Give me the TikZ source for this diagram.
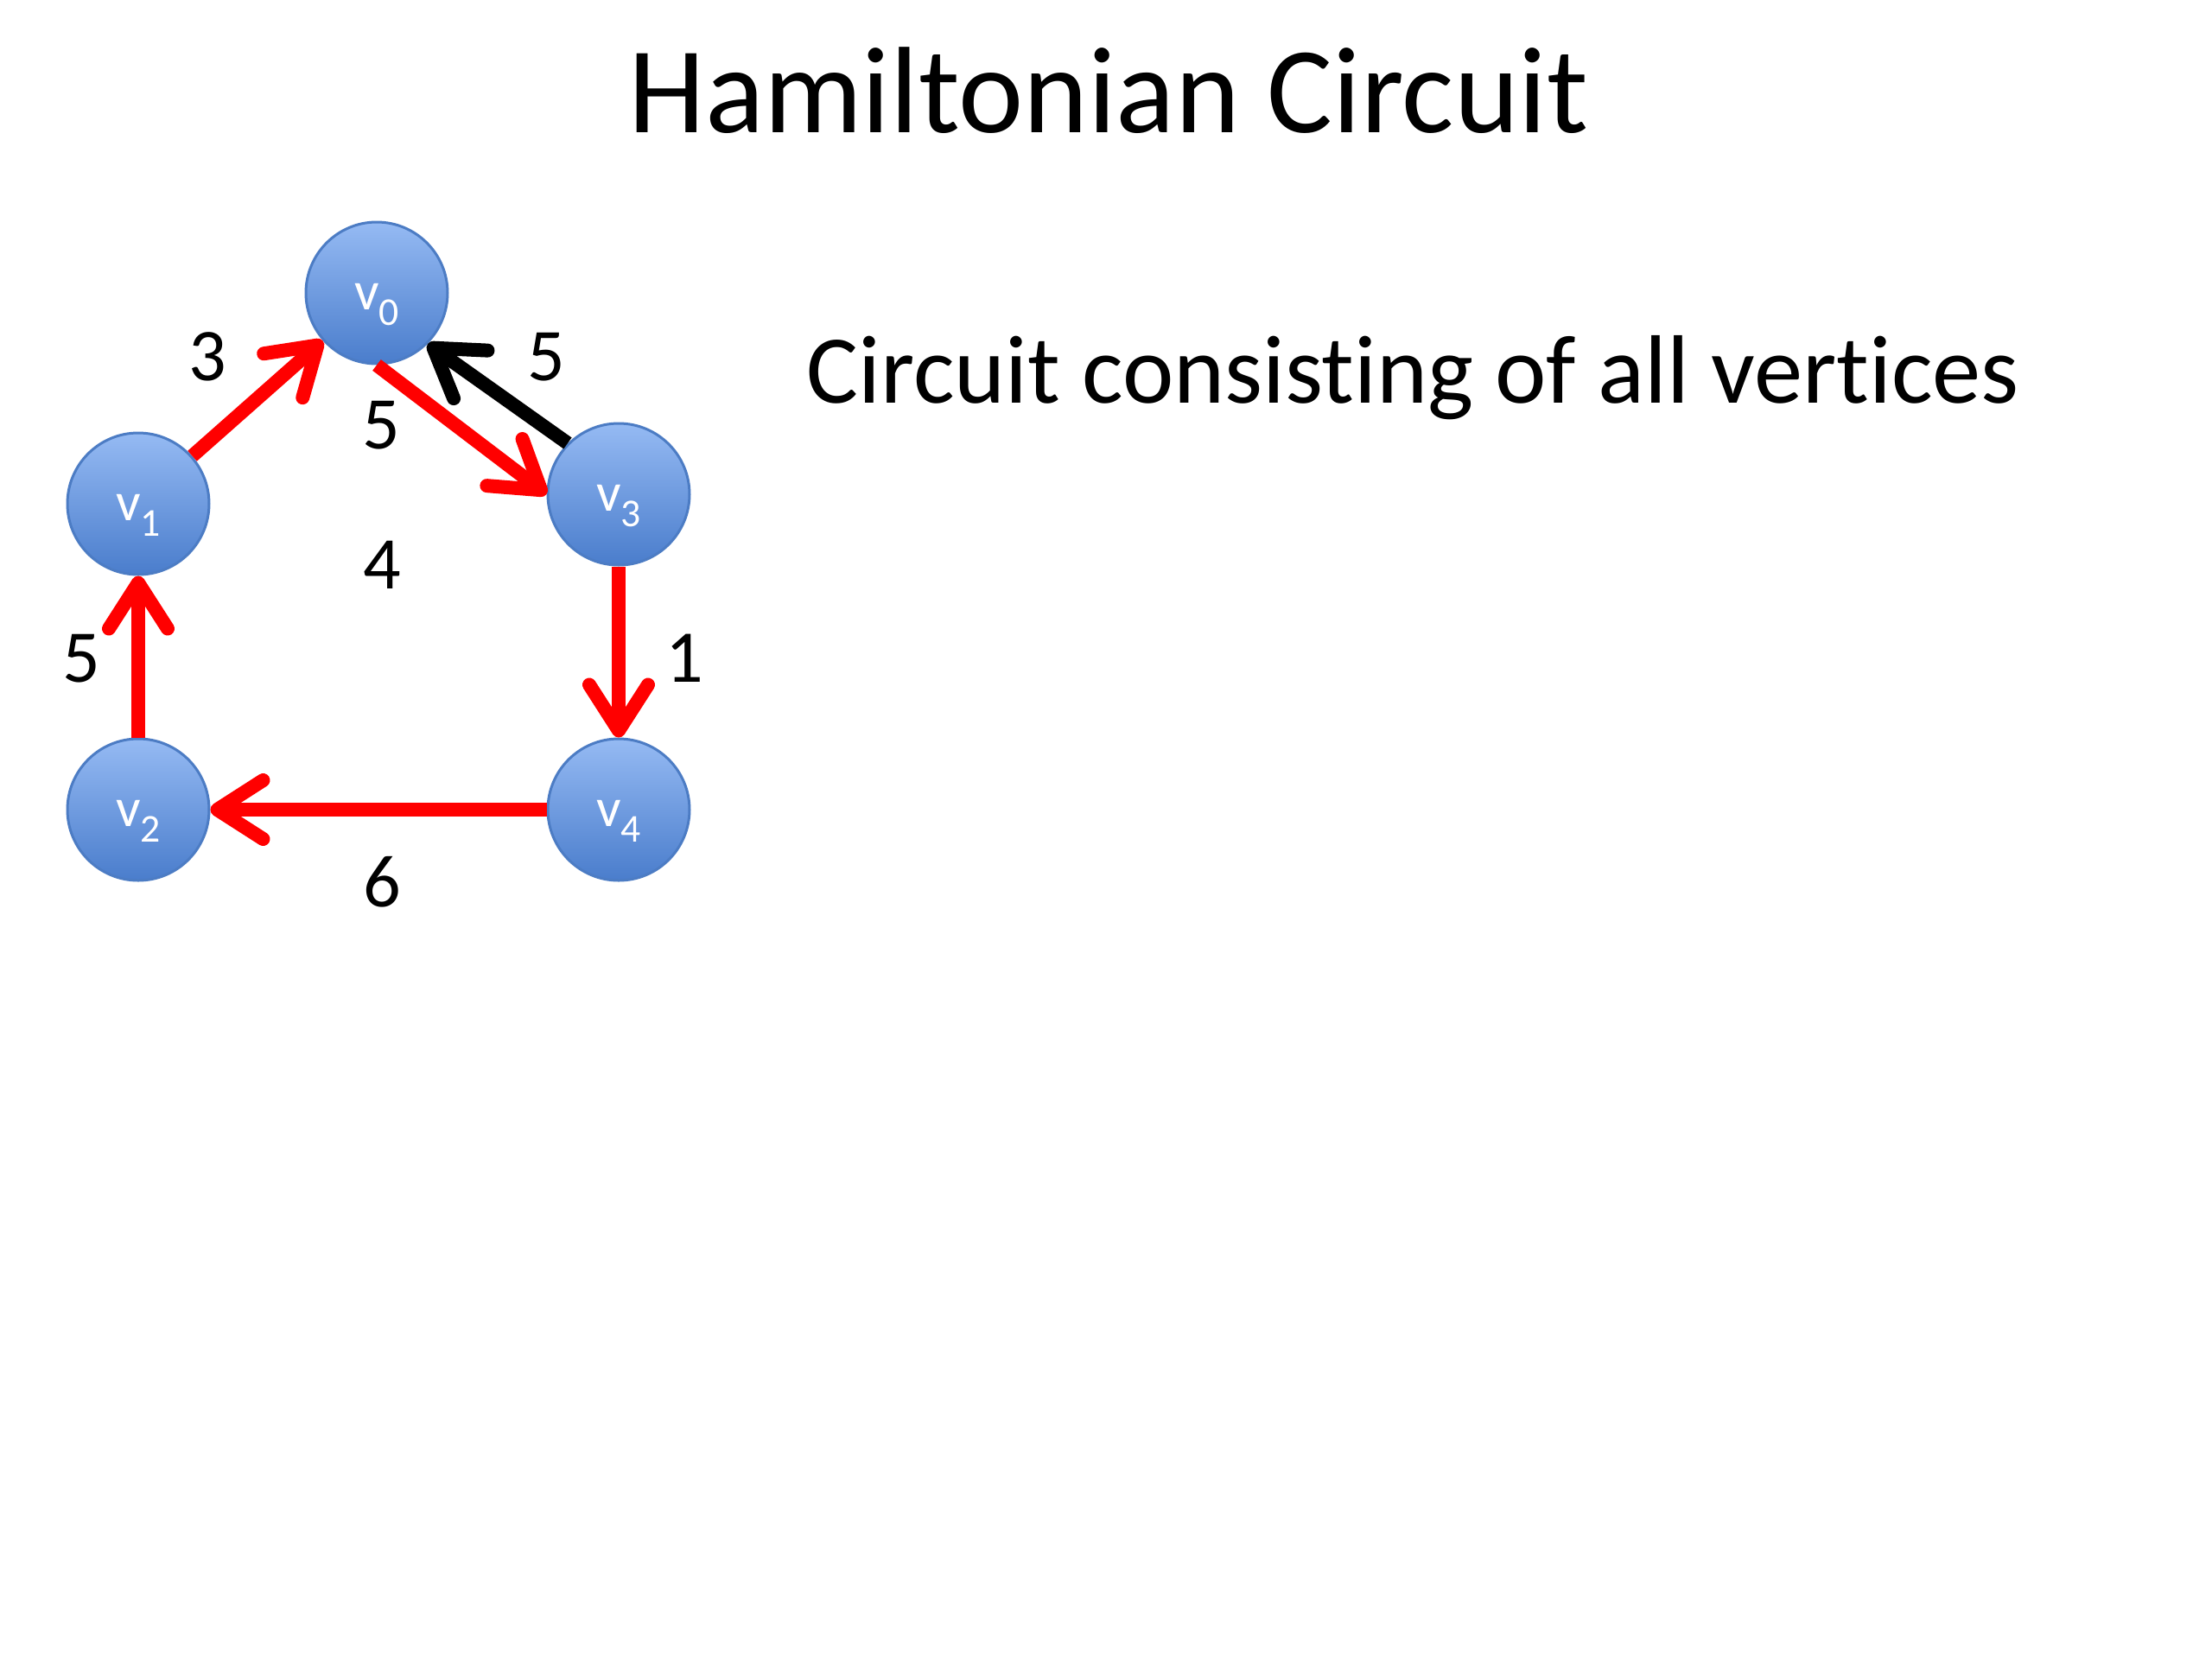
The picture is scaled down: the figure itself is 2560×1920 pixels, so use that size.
\documentclass[tikz,border=0pt]{standalone}
\usepackage{fontspec}
\setmainfont[RawFeature={-liga,-clig,-dlig}]{Carlito}
\usetikzlibrary{arrows.meta}
\definecolor{nodetop}{HTML}{95BAF3}
\definecolor{nodebot}{HTML}{4A7DCC}
\definecolor{nodeedge}{HTML}{4C7CC4}
\definecolor{tourred}{HTML}{FF0000}
\newcommand{\vlab}[1]{v\raisebox{-1.8mm}{\fontsize{13pt}{14pt}\selectfont #1}}
\begin{document}
\begin{tikzpicture}[x=0.1mm,y=-0.1mm,
  vertex/.style={circle, minimum size=16.4mm, inner sep=0pt, draw=nodeedge, line width=0.3mm,
    text height=3.8mm, text depth=0mm,
    top color=nodetop, bottom color=nodebot, text=white, font=\fontsize{18pt}{20pt}\selectfont},
  wlabel/.style={font=\fontsize{24.5pt}{28pt}\selectfont, inner sep=0pt},
  tourarrow/.style={line width=1.6mm, draw=tourred, -{Straight Barb[length=5.3mm,width=6.8mm,round]}},
  backarrow/.style={line width=1.6mm, draw=black, -{Straight Barb[length=5.3mm,width=6.8mm,round]}}]
  \fill[white] (0,0) rectangle (2560,1920);
  \useasboundingbox (0,0) rectangle (2560,1920);

  \node[anchor=base, font=\fontsize{40.5pt}{48pt}\selectfont, inner sep=0pt] (title) at (1283,153) {Hamiltonian Circuit};
  \node[anchor=base west, font=\fontsize{32pt}{38pt}\selectfont, inner sep=0pt] (sub) at (933,466) {Circuit consisting of all vertices};

  \node[vertex] (v0) at (436,339) {\vlab{0}};
  \node[vertex] (v1) at (160,583) {\vlab{1}};
  \node[vertex] (v3) at (716,572) {\vlab{3}};
  \node[vertex] (v2) at (160,937) {\vlab{2}};
  \node[vertex] (v4) at (716,937) {\vlab{4}};

  \draw[tourarrow] (v1) -- (v0);
  \draw[tourarrow] (v0.south) -- (v3.west);
  \draw[backarrow] (v3.135) -- (v0.-45);
  \draw[tourarrow] (v3.south) -- (v4.north);
  \draw[tourarrow] (v4.west) -- (v2.east);
  \draw[tourarrow] (v2.north) -- (v1.south);

  \node[wlabel] (l3) at (240,413) {3};
  \node[wlabel] (l5a) at (632,413) {5};
  \node[wlabel] (l5b) at (441,492) {5};
  \node[wlabel] (l4) at (442,654) {4};
  \node[wlabel] (l5c) at (94,762) {5};
  \node[wlabel] (l1) at (792,762) {1};
  \node[wlabel] (l6) at (442,1021) {6};
\end{tikzpicture}
\end{document}
